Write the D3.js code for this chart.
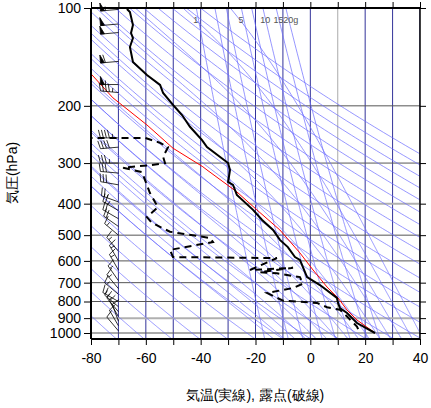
<!DOCTYPE html>
<html><head><meta charset="utf-8">
<script src="https://cdn.jsdelivr.net/npm/d3@7"></script>
<style>body{margin:0;background:#fff}svg{font-family:"Liberation Sans",Arial,sans-serif}</style>
</head><body><svg id="c" width="431" height="408"></svg>
<script>
// ---- data ----
const tempTicks=[-80,-60,-40,-20,0,20,40];
const presTicks=[100,200,300,400,500,600,700,800,900,1000];
const tempP=[100.7,102.9,112.8,119.4,123.7,131.8,146.6,160.8,172.5,182.6,201.7,213.5,232,255,268,300,315,343,350,376,418,449,482,517,544,584,596,627,673,712,780,808,838,868,932,1000];
const tempT=[-66.9,-65.8,-64.7,-65.4,-64.7,-65.8,-64.7,-59.6,-54.8,-53.7,-49.4,-46.8,-43.9,-39.5,-37.7,-30.0,-29.3,-30.0,-28.2,-26.8,-20.9,-17.6,-13.6,-11.1,-8.2,-5.6,-3.8,-2.7,-1.2,3.5,9.7,10.1,10.8,13.4,17.0,23.6];
const dewP=[251,251,251,260,268,287,300,304,310,320,371,410,440,458,488,510,525,555,584,588,640,630,650,655,673,705,727,753,795,808,833,848,890,955,1000];
const dewT=[-82,-70.2,-60.3,-54.8,-51.9,-53.7,-53.0,-57.8,-68.3,-61.4,-58.5,-55.6,-59.6,-57.8,-51.2,-36.6,-35.5,-51.2,-50.1,-12.2,-22.0,-6.3,-18.4,-12.2,-3.8,-2.7,-6.3,-15.8,-10.0,2.4,6.1,10.8,13.4,17.0,18.1];
const parcelP=[1000,912,850,780,722,640,567,482,418,368,315,308,270,229,189,160.8,150];
const parcelT=[23.6,17.0,13.4,10.1,6.1,1.0,-3.8,-11.1,-19.5,-26.8,-37.7,-39.2,-50.1,-59.6,-72.0,-79.6,-83];
const mixRatios=[1,2,3,5,7,10,15,20];
const mixLabels=[{w:1,t:"1"},{w:5,t:"5"},{w:10,t:"10"},{w:15,t:"15"},{w:20,t:"20g"}];
const dryThetas=d3.range(180,460,10);
const moistThetaW=d3.range(-16,41,4);
const windP=[101,112,119,146,172,182,251,268,300,322,350,395,420,445,470,500,560,600,640,690,730,760,800,830,860,890,920,950,985];
const windDir=[265,265,265,265,270,275,270,265,270,275,280,290,300,300,305,310,320,330,330,325,320,310,300,310,320,330,340,330,320];
const windSpd=[55,50,50,60,55,45,45,40,35,30,30,25,25,20,20,15,15,15,15,15,15,15,15,15,15,10,10,10,10];

// ---- layout ----
const L=91,R=420,T0=8,B=339;
const svg=d3.select("#c");
const x=d3.scaleLinear().domain([-80,40]).range([L,R]);
const y=d3.scaleLog().domain([100,1000]).range([T0,333]);
const pBot=y.invert(B);
svg.append("defs").append("clipPath").attr("id","cp").append("rect").attr("x",L).attr("y",T0).attr("width",R-L).attr("height",B-T0);
const g=svg.append("g").attr("clip-path","url(#cp)");

const Rd=287.04,cp=1005.7,Lv=2.5e6,eps=0.622;
const es=T=>6.112*Math.exp(17.67*T/(T+243.5));
const rs=(T,p)=>eps*es(T)/(p-es(T));
function moist(T0c,p0,p1){const pts=[];let T=T0c+273.15,p=p0;const n=300,dp=(p1-p0)/n;
  for(let i=0;i<=n;i++){pts.push([p,T-273.15]);const r=rs(T-273.15,p);
    const dTdp=(Rd*T+Lv*r)/(p*(cp+Lv*Lv*r*eps/(Rd*T*T)));T+=dTdp*dp;p+=dp;}
  return pts;}
const line=d3.line().x(d=>x(d[1])).y(d=>y(d[0]));
const pr=d3.range(0,201).map(i=>100+i*(pBot-100)/200);

g.selectAll(".vg").data(d3.range(-80,41,10)).join("line").attr("x1",d=>x(d)).attr("x2",d=>x(d)).attr("y1",T0).attr("y2",B)
 .attr("stroke",d=>d===10?"#aaa":"#33339a").attr("stroke-width",1);
g.selectAll(".hg").data(presTicks).join("line").attr("x1",L).attr("x2",R).attr("y1",d=>y(d)).attr("y2",d=>y(d))
 .attr("stroke",d=>(d===400||d===900)?"#b0b0b0":"#555").attr("stroke-width",d=>(d===400||d===900)?2:1);

const blue="#6a6aff";
dryThetas.forEach(th=>{g.append("path").attr("d",line(pr.map(p=>[p,th*Math.pow(p/1000,0.2857)-273.15]))).attr("fill","none").attr("stroke",blue).attr("stroke-width",0.7);});
moistThetaW.forEach(tw=>{const up=moist(tw,1000,100),dn=moist(tw,1000,pBot);
  g.append("path").attr("d",line(dn.reverse().concat(up))).attr("fill","none").attr("stroke",blue).attr("stroke-width",0.7);});
const tdw=(w,p)=>{const e=w*p/(622+w);const a=Math.log(e/6.112);return 243.5*a/(17.67-a);};
mixRatios.forEach(w=>{g.append("path").attr("d",line(pr.map(p=>[p,tdw(w,p)]))).attr("fill","none").attr("stroke",blue).attr("stroke-width",0.7);});
svg.selectAll(".ml").data(mixLabels).join("text").attr("x",d=>x(tdw(d.w,104))-4).attr("y",23)
 .attr("font-size",9).attr("fill","#555").text(d=>d.t);

const pl=d3.line().x((d,i)=>x(parcelT[i])).y((d,i)=>y(parcelP[i]));
g.append("path").attr("d",pl(parcelP)).attr("fill","none").attr("stroke","#f00").attr("stroke-width",1);
const tl=d3.line().x((d,i)=>x(tempT[i])).y((d,i)=>y(tempP[i]));
g.append("path").attr("d",tl(tempP)).attr("fill","none").attr("stroke","#000").attr("stroke-width",2);
const dl=d3.line().x((d,i)=>x(dewT[i])).y((d,i)=>y(dewP[i]));
g.append("path").attr("d",dl(dewP)).attr("fill","none").attr("stroke","#000").attr("stroke-width",2).attr("stroke-dasharray","7,5");

const bx=x(-70);
windP.forEach((p,i)=>{const by=y(p);const dir=windDir[i]*Math.PI/180;
  const ux=Math.sin(dir),uy=-Math.cos(dir);const len=18;
  const gb=svg.append("g").attr("stroke","#000").attr("stroke-width",0.8).attr("fill","#000");
  gb.append("line").attr("x1",bx).attr("y1",by).attr("x2",bx+ux*len).attr("y2",by+uy*len);
  let s=windSpd[i],pos=len;const px=-uy,py=ux;
  while(s>=50){const ax=bx+ux*pos,ay=by+uy*pos,cx=bx+ux*(pos-4),cy=by+uy*(pos-4);
    gb.append("path").attr("d",`M${ax},${ay}L${ax+px*8},${ay+py*8}L${cx},${cy}Z`);pos-=5;s-=50;}
  while(s>=10){const ax=bx+ux*pos,ay=by+uy*pos;gb.append("line").attr("x1",ax).attr("y1",ay).attr("x2",ax+px*8+ux*2).attr("y2",ay+py*8+uy*2);pos-=3;s-=10;}
  if(s>=5){const ax=bx+ux*pos,ay=by+uy*pos;gb.append("line").attr("x1",ax).attr("y1",ay).attr("x2",ax+px*4).attr("y2",ay+py*4);}
});

svg.append("line").attr("x1",L).attr("x2",R).attr("y1",T0).attr("y2",T0).attr("stroke","#000").attr("stroke-width",2);
svg.append("line").attr("x1",L).attr("x2",R).attr("y1",B).attr("y2",B).attr("stroke","#000").attr("stroke-width",2);
svg.append("line").attr("x1",L).attr("x2",L).attr("y1",T0).attr("y2",B).attr("stroke","#000").attr("stroke-width",2);
svg.append("line").attr("x1",R).attr("x2",R).attr("y1",T0).attr("y2",B).attr("stroke","#000").attr("stroke-width",1.5);
const xb=svg.append("g").attr("transform",`translate(0,${B})`).call(d3.axisBottom(x).tickValues(d3.range(-80,41,10)).tickSize(6).tickFormat(d=>tempTicks.includes(d)?d:""));
const xt=svg.append("g").attr("transform",`translate(0,${T0})`).call(d3.axisTop(x).tickValues(d3.range(-80,41,10)).tickSize(6).tickFormat(""));
const yl=svg.append("g").attr("transform",`translate(${L},0)`).call(d3.axisLeft(y).tickValues(presTicks).tickSize(7).tickFormat(d=>d));
const yr=svg.append("g").attr("transform",`translate(${R},0)`).call(d3.axisRight(y).tickValues(presTicks).tickSize(6).tickFormat(""));
[xb,xt,yl,yr].forEach(a=>{a.select(".domain").remove();a.selectAll("line").attr("stroke","#000");a.selectAll("text").attr("font-size",14).attr("fill","#000").attr("font-family","Liberation Sans, Arial, sans-serif");});
xb.selectAll("text").attr("dy","1.1em");
svg.append("text").attr("x",255).attr("y",400).attr("text-anchor","middle").attr("font-size",14).text("気温(実線), 露点(破線)");
svg.append("text").attr("transform","translate(17,173) rotate(-90)").attr("text-anchor","middle").attr("font-size",14).text("気圧(hPa)");
</script></body></html>
